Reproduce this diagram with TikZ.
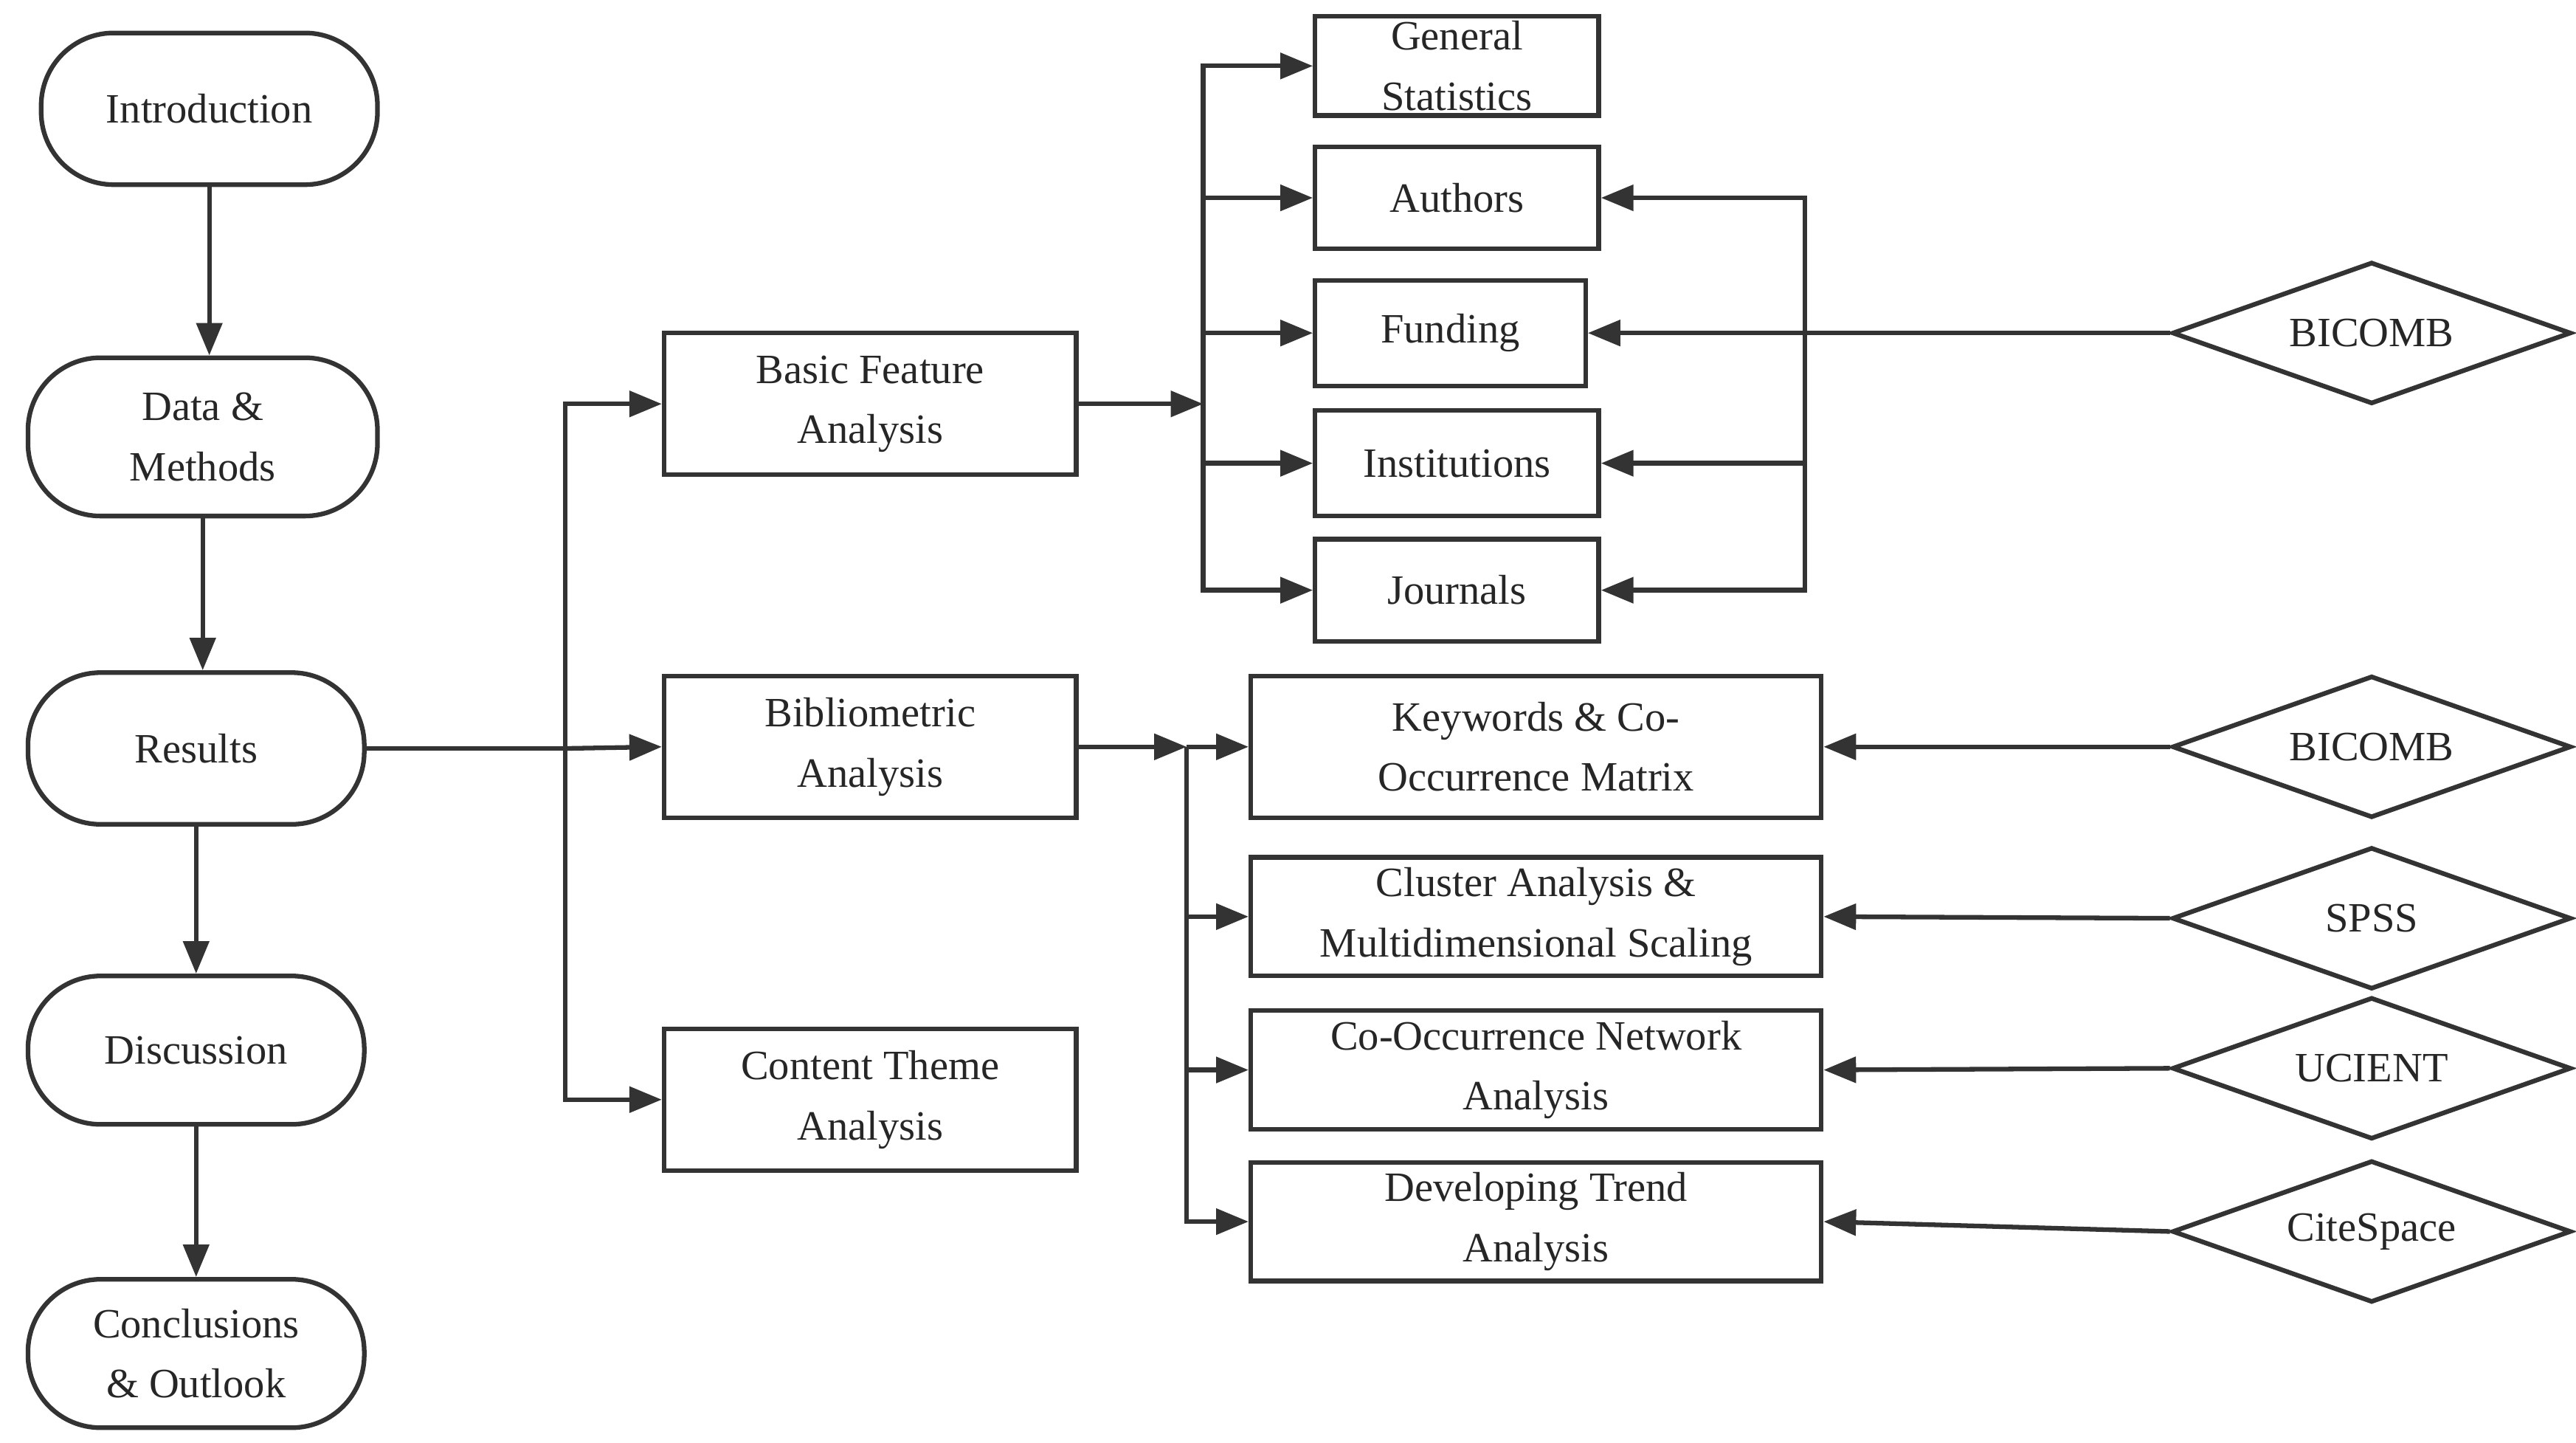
\documentclass[tikz,border=0pt]{standalone}
\usepackage{fontspec}
\setmainfont{Liberation Serif}
\usetikzlibrary{arrows.meta,shapes.geometric}
\begin{document}
\begin{tikzpicture}[x=0.025cm,y=-0.025cm,
  every node/.style={font=\fontsize{18}{26}\selectfont,text=black!85,align=center,inner sep=0pt},
  line/.style={draw=black!80,line width=2pt},
  arr/.style={line,-{Triangle[length=14pt,width=11pt]}},
  rbox/.style={line,rounded corners=1.1cm,minimum width=5.1cm,minimum height=2.3cm},
  box/.style={line,minimum width=6.25cm,minimum height=2.15cm},
  sbox/.style={line,minimum width=4.3cm,minimum height=1.55cm},
  wbox/.style={line,minimum width=8.65cm,minimum height=1.8cm},
  dia/.style={line,diamond,aspect=2.8,minimum width=6.05cm,minimum height=2.15cm,inner sep=0pt}]
\useasboundingbox (0,0) rectangle (1563,875);
\node[rbox] (intro) at (127,66) {Introduction};
\node[rbox,minimum width=5.3cm,minimum height=2.4cm] (data) at (123,265) {Data \&\\Methods};
\node[rbox] (res) at (119,454) {Results};
\node[rbox,minimum height=2.25cm] (disc) at (119,637) {Discussion};
\node[rbox,minimum height=2.25cm] (conc) at (119,821) {Conclusions\\\& Outlook};
\draw[arr] (intro) -- (intro|-data.north);
\draw[arr] (data) -- (data.south|-res.north);
\draw[arr] (res) -- (res.south|-disc.north);
\draw[arr] (disc) -- (disc.south|-conc.north);

\node[box] (basic) at (528,245) {Basic Feature\\Analysis};
\node[box] (bib) at (528,453) {Bibliometric\\Analysis};
\node[box] (cont) at (528,667) {Content Theme\\Analysis};
\coordinate (j1) at (343,454);
\draw[line] (res.east) -- (j1);
\draw[arr] (j1) -- (bib.west);
\draw[arr] (343,454) |- (basic.west);
\draw[arr] (343,454) |- (cont.west);

\node[sbox,minimum height=1.5cm] (gen) at (884,40) {General\\Statistics};
\node[sbox] (auth) at (884,120) {Authors};
\node[sbox,minimum width=4.1cm,minimum height=1.6cm] (fund) at (880,202) {Funding};
\node[sbox,minimum height=1.6cm] (inst) at (884,281) {Institutions};
\node[sbox] (jour) at (884,358) {Journals};
\coordinate (b1) at (730,245);
\draw[arr] (basic.east) -- (b1);
\draw[arr] (730,245) |- (gen.west);
\draw[arr] (730,245) |- (auth.west);
\draw[arr] (730,202) -- (fund.west);
\draw[arr] (730,245) |- (inst.west);
\draw[arr] (730,245) |- (jour.west);

\node[dia] (d1) at (1439,202) {BICOMB};
\coordinate (r1) at (1095,120);
\draw[arr] (d1.west) -- (fund.east);
\draw[arr] (1095,202) |- (auth.east);
\draw[arr] (1095,202) |- (inst.east);
\draw[arr] (1095,202) |- (jour.east);

\node[wbox,minimum height=2.15cm] (kw) at (932,453) {Keywords \& Co-\\Occurrence Matrix};
\node[wbox] (clu) at (932,556) {Cluster Analysis \&\\Multidimensional Scaling};
\node[wbox] (net) at (932,649) {Co-Occurrence Network\\Analysis};
\node[wbox] (dev) at (932,741) {Developing Trend\\Analysis};
\coordinate (b2) at (720,453);
\draw[arr] (bib.east) -- (b2);
\draw[arr] (720,453) -- (kw.west);
\draw[arr] (720,453) |- (clu.west);
\draw[arr] (720,453) |- (net.west);
\draw[arr] (720,453) |- (dev.west);

\node[dia] (d2) at (1439,453) {BICOMB};
\node[dia] (d3) at (1439,557) {SPSS};
\node[dia] (d4) at (1439,648) {UCIENT};
\node[dia] (d5) at (1439,747) {CiteSpace};
\draw[arr] (d2.west) -- (kw.east);
\draw[arr] (d3.west) -- (clu.east);
\draw[arr] (d4.west) -- (net.east);
\draw[arr] (d5.west) -- (dev.east);
\end{tikzpicture}
\end{document}
